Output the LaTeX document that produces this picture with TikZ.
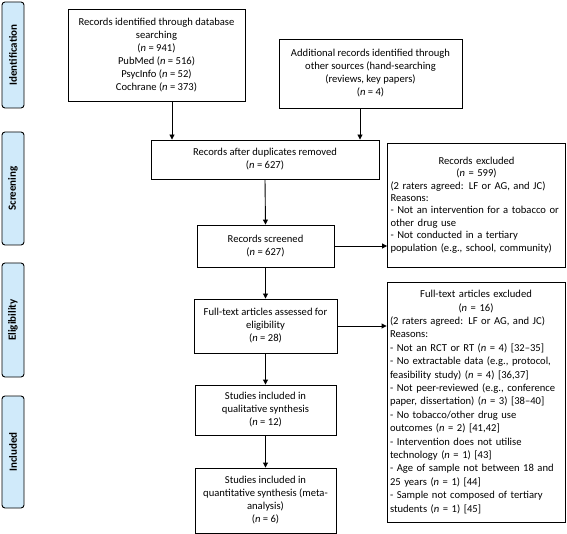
\documentclass[tikz,border=0pt]{standalone}
\usepackage{fontspec}
\setmainfont{Carlito}
\usetikzlibrary{arrows.meta,calc}
\definecolor{phase}{RGB}{208,234,250}
\tikzset{
  box/.style={draw=black, line width=0.9pt, inner sep=2pt, align=center, font=\fontsize{10.6}{13}\selectfont},
  exbox/.style={draw=black, line width=0.9pt, inner sep=3pt, align=left, text width=172pt},
  phaselbl/.style={draw=black, line width=0.9pt, fill=phase, rounded corners=3pt, rotate=90, minimum height=22pt, inner sep=0pt, font=\fontsize{11}{13}\selectfont\bfseries},
  arr/.style={line width=0.9pt, -{Triangle[length=5pt,width=5pt]}}
}
\begin{document}
\begin{tikzpicture}[x=1pt,y=-1pt]
\useasboundingbox (0,0) rectangle (567,534);
% phase labels
\node[phaselbl, minimum width=106pt] (pid) at (13,55) {Identification};
\node[phaselbl, minimum width=113pt] (psc) at (13,188.5) {Screening};
\node[phaselbl, minimum width=114pt] (pel) at (13,320) {Eligibility};
\node[phaselbl, minimum width=112pt] (pin) at (13,452) {Included};
% boxes
\node[box, minimum width=177pt, minimum height=92pt] (id1) at (156.5,55)
  {Records identified through database\\searching\\(\textit{n} = 941)\\PubMed (\textit{n} = 516)\\PsycInfo (\textit{n} = 52)\\Cochrane (\textit{n} = 373)};
\node[box, minimum width=183pt, minimum height=69pt] (id2) at (370.5,73.5)
  {Additional records identified through\\other sources (hand-searching\\(reviews, key papers)\\(\textit{n} = 4)};
\node[box, minimum width=228pt, minimum height=39pt] (dup) at (265,159.5)
  {Records after duplicates removed\\(\textit{n} = 627)};
\node[box, minimum width=137pt, minimum height=42pt] (scr) at (265.5,246)
  {Records screened\\(\textit{n} = 627)};
\node[exbox, minimum width=177pt, minimum height=124pt, font=\fontsize{10.6}{12.4}\selectfont] (ex1) at (476.5,205)
  {\makebox[172pt][c]{Records excluded}\\
   \makebox[172pt][c]{(\textit{n} = 599)}\\
   (2 raters agreed: LF or AG, and JC)\\
   Reasons:\\
   - Not an intervention for a tobacco or\\
   other drug use\\
   - Not conducted in a tertiary\\
   population (e.g., school, community)};
\node[box, minimum width=143pt, minimum height=54pt] (ft) at (265.5,326)
  {Full-text articles assessed for\\eligibility\\(\textit{n} = 28)};
\node[exbox, minimum width=178pt, minimum height=240pt, font=\fontsize{10.6}{13.4}\selectfont] (ex2) at (476,402)
  {\makebox[172pt][c]{Full-text articles excluded}\\
   \makebox[172pt][c]{(\textit{n} = 16)}\\
   (2 raters agreed: LF or AG, and JC)\\
   Reasons:\\
   - Not an RCT or RT (\textit{n} = 4) [32--35]\\
   - No extractable data (e.g., protocol,\\
   feasibility study) (\textit{n} = 4) [36,37]\\
   - Not peer-reviewed (e.g., conference\\
   paper, dissertation) (\textit{n} = 3) [38--40]\\
   - No tobacco/other drug use\\
   outcomes (\textit{n} = 2) [41,42]\\
   - Intervention does not utilise\\
   technology (\textit{n} = 1) [43]\\
   - Age of sample not between 18 and\\
   25 years (\textit{n} = 1) [44]\\
   - Sample not composed of tertiary\\
   students (\textit{n} = 1) [45]};
\node[box, minimum width=141pt, minimum height=50pt] (qual) at (265.5,410)
  {Studies included in\\qualitative synthesis\\(\textit{n} = 12)};
\node[box, minimum width=141pt, minimum height=65pt] (quant) at (265.5,500.5)
  {Studies included in\\quantitative synthesis (meta-\\analysis)\\(\textit{n} = 6)};
% connectors
\coordinate (c1) at (172,0);
\coordinate (c2) at (360,0);
\draw[arr] (id1.south -| c1) -- (dup.north -| c1);
\draw[arr] (id2.south -| c2) -- (dup.north -| c2);
\draw[arr] (dup.south) -- (scr.north);
\draw[arr] (scr.east) -- (scr.east -| ex1.west);
\draw[arr] (scr.south) -- (ft.north);
\draw[arr] (ft.east) -- (ft.east -| ex2.west);
\draw[arr] (ft.south) -- (qual.north);
\draw[arr] (qual.south) -- (quant.north);
\end{tikzpicture}
\end{document}
